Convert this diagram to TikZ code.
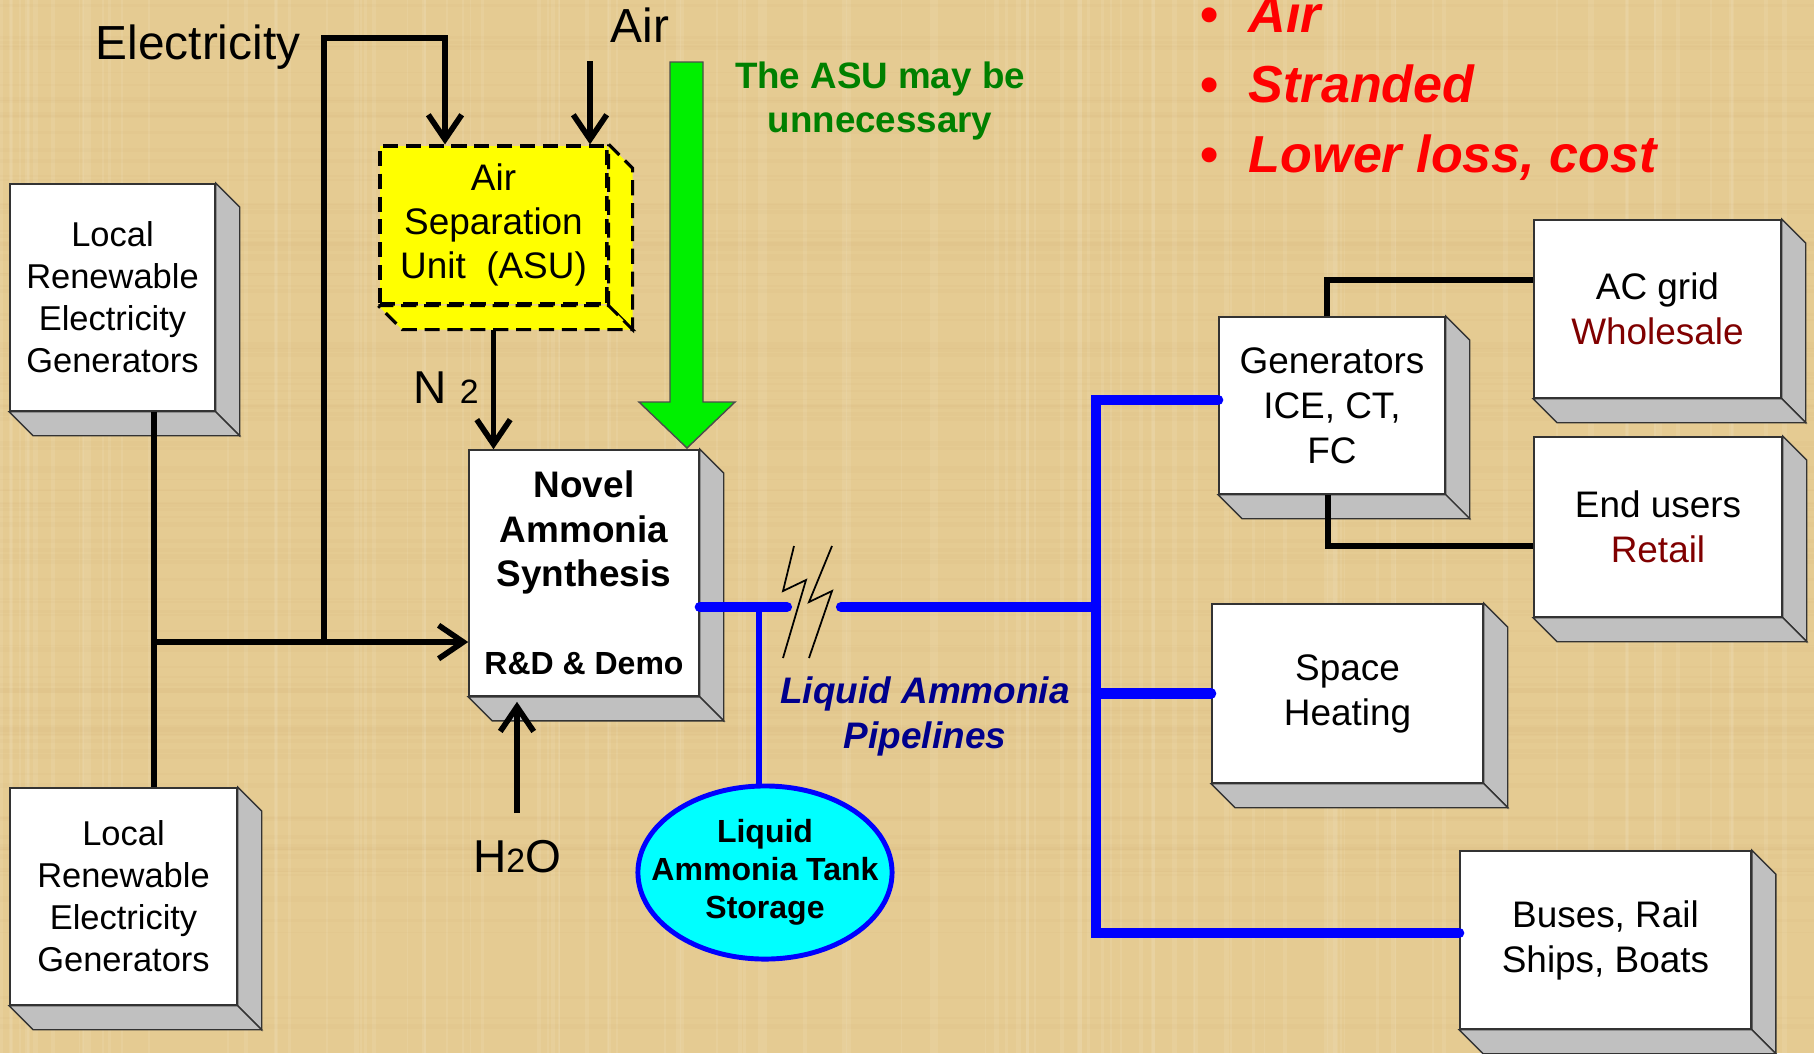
\documentclass[tikz,border=0pt]{standalone}
\usepackage{fontspec}
\setmainfont{Liberation Sans}
\usetikzlibrary{arrows.meta,calc,positioning,shapes.geometric}
\definecolor{paper}{RGB}{229,203,146}
\definecolor{paperdark}{RGB}{190,160,100}
\definecolor{slabgray}{RGB}{192,192,192}
\definecolor{asuyellow}{RGB}{255,255,0}
\definecolor{pipeblue}{RGB}{0,0,255}
\definecolor{tankcyan}{RGB}{0,255,255}
\definecolor{bypassgreen}{RGB}{0,240,0}
\definecolor{notegreen}{RGB}{0,128,0}
\definecolor{pipenavy}{RGB}{0,0,140}
\definecolor{marketred}{RGB}{128,0,0}
\definecolor{pointred}{RGB}{255,0,0}

% side and bottom faces of a block
\newcommand{\blockfaces}[2]{%
  \draw[#2] (#1.north east) -- ++(24,24) -- ($(#1.south east)+(24,24)$) -- (#1.south east) -- cycle;
  \draw[#2] (#1.south west) -- (#1.south east) -- ++(24,24) -- ($(#1.south west)+(24,24)$) -- cycle;}

\begin{document}
\begin{tikzpicture}[x=0.01cm, y=-0.01cm,
    face/.style={draw=black!80, line width=0.4pt, fill=white, inner sep=0pt, align=center},
    sidegray/.style={fill=slabgray, draw=black!80, line width=0.4pt},
    asuline/.style={draw=black, line width=0.9pt, dash pattern=on 4.3pt off 2.2pt},
    leftfont/.style={font=\fontsize{9.8}{11.95}\selectfont},
    rightfont/.style={font=\fontsize{10.5}{12.8}\selectfont},
    wire/.style={line width=1.6pt, black},
    barb/.style={-{Straight Barb[length=7pt,width=9.5pt]}},
    pipe/.style={line width=2.9pt, pipeblue, line cap=round},
    point/.style={anchor=base west, inner sep=0pt, text=pointred, font=\bfseries\fontsize{14.8}{17}\selectfont}
  ]
  \useasboundingbox (0,0) rectangle (1814,1053);
  \fill[paper] (0,0) rectangle (1814,1053);
  % parchment weave
  \pgfmathsetseed{11}
  \foreach \k in {1,...,110} {
    \pgfmathsetmacro\xx{rnd*1814}
    \pgfmathsetmacro\yy{rnd*1053}
    \pgfmathsetmacro\ww{0.3+rnd*1.2}
    \draw[white, opacity=0.08, line width=\ww pt] (\xx,0) -- (\xx,1053);
    \draw[paperdark, opacity=0.05, line width=\ww pt] (0,\yy) -- (1814,\yy);
  }

  % blocks
  \node[face, leftfont, minimum width=2.05cm, minimum height=2.27cm] (gen1) at (112.5,297.5) {Local\\Renewable\\Electricity\\Generators};
  \node[face, leftfont, minimum width=2.27cm, minimum height=2.17cm] (gen2) at (123.5,896.5) {Local\\Renewable\\Electricity\\Generators};
  \node[face, asuline, fill=asuyellow, minimum width=2.27cm, minimum height=1.58cm, font=\fontsize{10.5}{12.4}\selectfont] (asu) at (493.5,225) {Air\\Separation\\Unit\ \ (ASU)};
  \node[face, minimum width=2.30cm, minimum height=2.46cm, font=\bfseries\fontsize{10.5}{12.6}\selectfont] (novel) at (584,573) {Novel\\Ammonia\\Synthesis\\[0.44cm]{\fontsize{9.1}{11}\selectfont R\&D \& Demo}};
  \node[face, rightfont, minimum width=2.26cm, minimum height=1.77cm] (gens) at (1332,405.5) {Generators\\ICE, CT,\\FC};
  \node[face, rightfont, minimum width=2.47cm, minimum height=1.78cm] (acgrid) at (1657.5,309) {AC grid\\\textcolor{marketred}{Wholesale}};
  \node[face, rightfont, minimum width=2.48cm, minimum height=1.80cm] (endusers) at (1658,527) {End users\\\textcolor{marketred}{Retail}};
  \node[face, rightfont, minimum width=2.71cm, minimum height=1.79cm] (heat) at (1347.5,693.5) {Space\\Heating};
  \node[face, rightfont, minimum width=2.91cm, minimum height=1.78cm] (buses) at (1605.5,940) {Buses, Rail\\Ships, Boats};

  \blockfaces{gen1}{sidegray}
  \blockfaces{gen2}{sidegray}
  \blockfaces{asu}{asuline, fill=asuyellow}
  \blockfaces{novel}{sidegray}
  \blockfaces{gens}{sidegray}
  \blockfaces{acgrid}{sidegray}
  \blockfaces{endusers}{sidegray}
  \blockfaces{heat}{sidegray}
  \blockfaces{buses}{sidegray}

  \node[ellipse, draw=pipeblue, line width=1.4pt, fill=tankcyan, minimum width=2.54cm, minimum height=1.73cm, inner sep=0pt,
    label={[align=center, font=\bfseries\fontsize{9.1}{10.8}\selectfont]center:Liquid\\Ammonia Tank\\Storage}] (tank) at (765,872.5) {};

  % texts
  \node[anchor=base west, inner sep=0pt, font=\fontsize{13.6}{16}\selectfont] (electext) at (95,59) {Electricity};
  \node[anchor=base west, inner sep=0pt, font=\fontsize{13.6}{16}\selectfont] (airtext) at (610,42) {Air};
  \node[anchor=base west, inner sep=0pt, font=\fontsize{13.1}{15}\selectfont] (ntwo) at (413,403) {N {\fontsize{9.6}{11}\selectfont 2}};
  \node[anchor=base, inner sep=0pt, font=\fontsize{13.1}{15}\selectfont] (water) at (517,872) {H{\fontsize{9.6}{11}\selectfont 2}O};
  \node[align=center, inner sep=0pt, text=notegreen, font=\bfseries\fontsize{10.45}{12.5}\selectfont] (asunote) at (880,101) {The ASU may be\\unnecessary};
  \node[align=center, inner sep=0pt, text=pipenavy, font=\bfseries\itshape\fontsize{10.5}{12.8}\selectfont] (pipelabel) at (925,716) {Liquid Ammonia\\Pipelines};
  \foreach \pt [count=\i] in {Air, Stranded, {Lower loss, cost}}
    \node[point] (point\i) at (1200,{32+70*(\i-1)}) {\textbullet\hspace{0.3cm}\textit{\pt}};

  % electricity and feeds
  \coordinate (gridtee) at (154,642);
  \coordinate (elecjoin) at (324,642);
  \coordinate (elecdrop) at (445,38);
  \coordinate (airfeed) at (590,61);
  \draw[wire] (gen1.south -| gridtee) -- (gen2.north -| gridtee);
  \draw[wire, barb] (gridtee) -- (gridtee -| novel.west);
  \draw[wire, barb] (elecjoin) |- (elecdrop) -- (elecdrop |- asu.north);
  \draw[wire, barb] (airfeed) -- (airfeed |- asu.north);
  \draw[wire, barb] ([yshift=-0.24cm]asu.south) -- (asu.south |- novel.north);
  \draw[wire, barb] ([yshift=0.26cm]water.north) -- ([yshift=-0.05cm]water.north |- novel.south);

  % bypass arrow
  \coordinate (bypasstip) at (687,448);
  \draw[fill=bypassgreen, draw=black!70, line width=0.4pt] (bypasstip) -- ++(48,-46) -- ++(-32,0) -- ++(0,-340)
    -- ++(-33,0) -- ++(0,340) -- ++(-31,0) -- cycle;

  % pipelines
  \coordinate (busjoin) at (1096,607);
  \coordinate (breakL) at (787,607);
  \coordinate (breakR) at (841,607);
  \coordinate (bustop) at (1096,400);
  \coordinate (busbot) at (1096,933);
  \coordinate (tanktap) at (759,607);
  \draw[pipeblue, line width=1.5pt] (tanktap) -- (tanktap |- tank.north);
  \draw[pipe] (novel.east |- busjoin) -- (breakL);
  \draw[pipe] (breakR) -- (busjoin);
  \draw[pipe] (gens.west |- bustop) -- (bustop) -- (busbot) -- (busbot -| buses.west);
  \draw[pipe] (heat.west) -- (heat.west -| bustop);
  \draw[line width=0.5pt] (794,546) -- (783,591) -- (806,580) -- (783,658);
  \draw[line width=0.5pt] (832,546) -- (809,602) -- (832,591) -- (809,658);

  % power out
  \draw[wire] ([xshift=-0.05cm]gens.north) |- ([yshift=0.29cm]acgrid.west);
  \draw[wire] ([xshift=-0.04cm]gens.south) |- ([yshift=-0.19cm]endusers.west);
\end{tikzpicture}
\end{document}
